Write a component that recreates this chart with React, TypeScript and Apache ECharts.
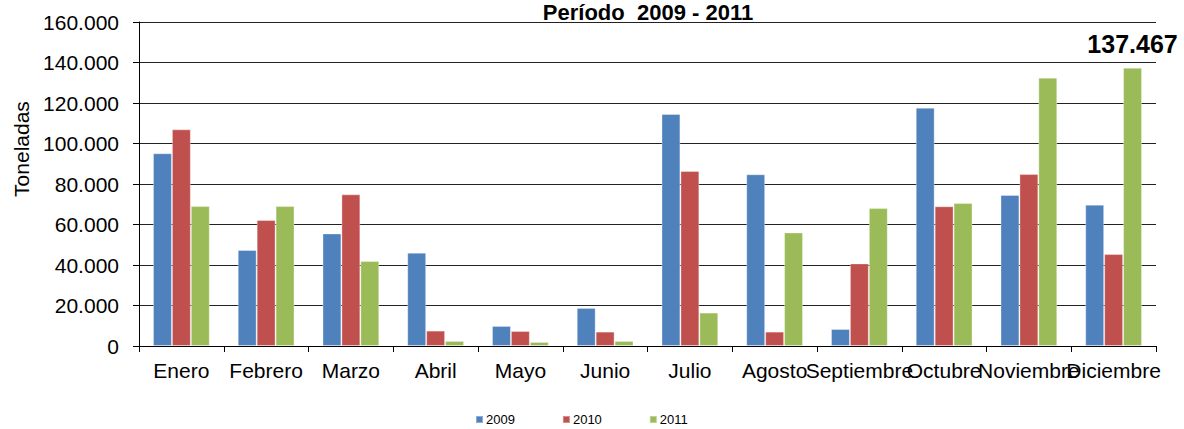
import React, { useEffect, useRef } from "react";
import * as echarts from "echarts";

const categories = ["Enero", "Febrero", "Marzo", "Abril", "Mayo", "Junio", "Julio", "Agosto", "Septiembre", "Octubre", "Noviembre", "Diciembre"];
const seriesNames = ["2009", "2010", "2011"];
const values2009 = [95200, 47400, 55600, 46100, 9900, 18800, 114600, 84800, 8400, 117700, 74600, 69800];
const values2010 = [107000, 62200, 74900, 7600, 7400, 7100, 86400, 7100, 40800, 69000, 84900, 45400];
const values2011 = [69100, 69100, 42000, 2500, 2000, 2500, 16500, 56100, 68100, 70600, 132500, 137467];
const highlightIndex = 11;
const titleText = "Período  2009 - 2011";
const yAxisTitle = "Toneladas";

const colors = ["#4F81BD", "#C0504D", "#9BBB59"];
const font = "Arial, 'Liberation Sans', sans-serif";

function fmt(v: number): string {
  if (v === 0) return "0";
  const s = Math.round(v).toString();
  return s.replace(/\B(?=(\d{3})+(?!\d))/g, ".");
}

export default function App() {
  const ref = useRef<HTMLDivElement>(null);
  useEffect(() => {
    if (!ref.current) return;
    const chart = echarts.init(ref.current, null, { renderer: "svg" });
    const allValues = [values2009, values2010, values2011];
    const series = allValues.map((vals, si) => ({
      name: seriesNames[si],
      type: "bar",
      barGap: "0%",
      barCategoryGap: "33%",
      itemStyle: { color: colors[si], borderColor: "rgba(255,255,255,0.35)", borderWidth: 1 },
      data: vals.map((v, i) =>
        si === 2 && i === highlightIndex
          ? {
              value: v,
              label: {
                show: true,
                position: "top",
                distance: 11,
                formatter: (p: any) => fmt(p.value),
                fontFamily: font,
                fontWeight: "bold",
                fontSize: 25,
                color: "#000",
              },
            }
          : v
      ),
    }));
    chart.setOption({
      animation: false,
      textStyle: { fontFamily: font },
      grid: { left: 139, right: 28, top: 22, bottom: 83, containLabel: false },
      legend: {
        data: seriesNames,
        left: 475,
        top: 413,
        padding: 0,
        icon: "rect",
        itemWidth: 7,
        itemHeight: 7,
        itemGap: 47,
        textStyle: { fontFamily: font, fontSize: 13, color: "#000", padding: [0, 0, 0, -2] },
      },
      graphic: [
        {
          type: "text",
          x: 648,
          y: 1,
          style: {
            text: titleText,
            font: `bold 22px ${font}`,
            fill: "#000",
            textAlign: "center",
            textVerticalAlign: "top",
          },
        },
        {
          type: "text",
          x: 21,
          y: 149,
          rotation: Math.PI / 2,
          style: {
            text: yAxisTitle,
            font: `21px ${font}`,
            fill: "#000",
            textAlign: "center",
            textVerticalAlign: "middle",
          },
        },
      ],
      xAxis: {
        type: "category",
        data: categories,
        axisLine: { lineStyle: { color: "#000", width: 1 } },
        axisTick: { show: true, length: 6, lineStyle: { color: "#000" } },
        axisLabel: { interval: 0, margin: 14, fontSize: 21, color: "#000", fontFamily: font },
      },
      yAxis: {
        type: "value",
        min: 0,
        max: 160000,
        interval: 20000,
        axisLine: { show: true, lineStyle: { color: "#000", width: 1 } },
        axisTick: { show: true, length: 6, lineStyle: { color: "#000" } },
        splitLine: { show: true, lineStyle: { color: "#222", width: 1 } },
        axisLabel: { margin: 20, fontSize: 21, color: "#000", fontFamily: font, formatter: (v: number) => fmt(v) },
      },
      series,
    });
    return () => chart.dispose();
  }, []);
  return <div ref={ref} style={{ position: "absolute", left: 0, top: 0, width: 1184, height: 429, background: "#fff" }} />;
}
